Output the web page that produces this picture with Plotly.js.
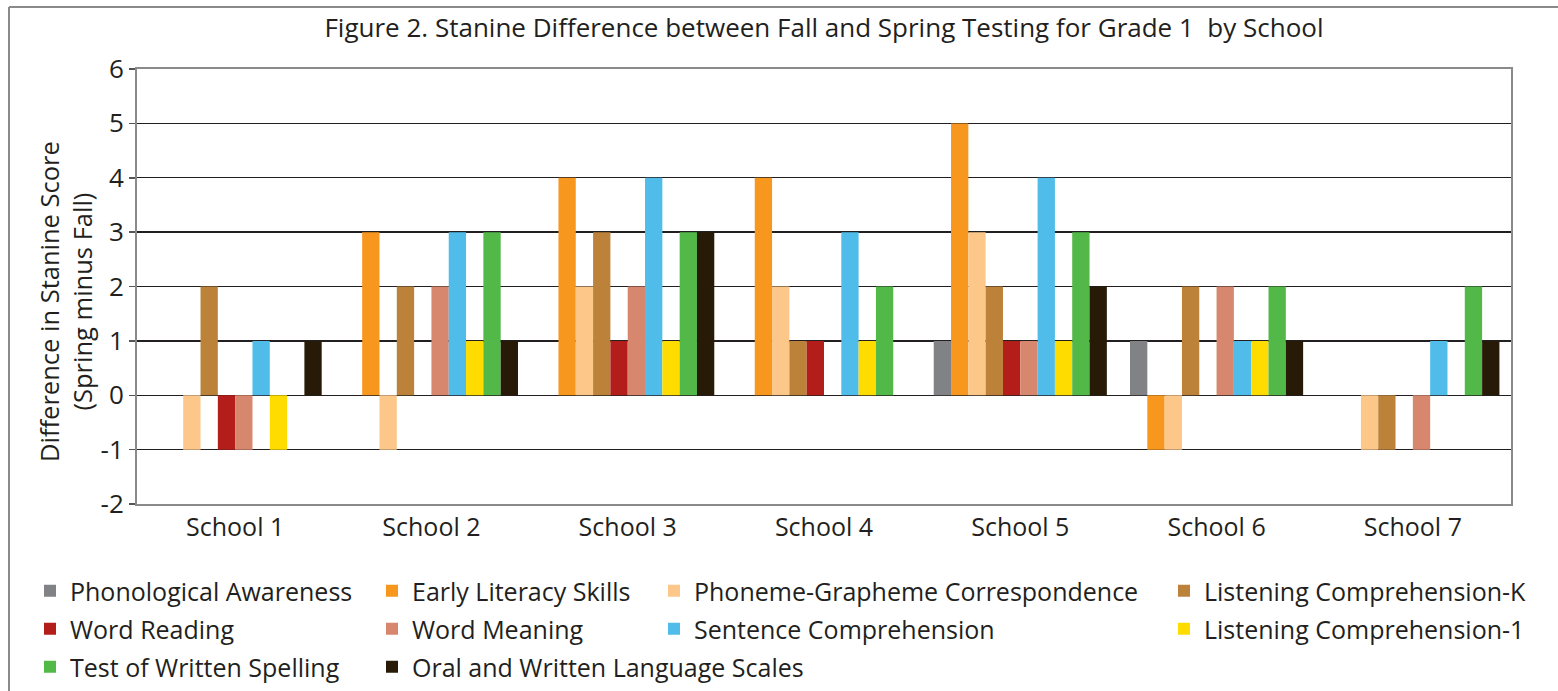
<!DOCTYPE html>
<html>
<head>
<meta charset="utf-8">
<script src="https://cdn.plot.ly/plotly-3.0.1.min.js"></script>
<style>html,body{margin:0;padding:0;background:#fff;}#chart{width:1558px;height:691px;}</style>
</head>
<body>
<div id="chart"></div>
<script>
// ---- data ----
const schools = ["School 1", "School 2", "School 3", "School 4", "School 5", "School 6", "School 7"];
const seriesNames = [
  "Phonological Awareness", "Early Literacy Skills", "Phoneme-Grapheme Correspondence",
  "Listening Comprehension-K", "Word Reading", "Word Meaning", "Sentence Comprehension",
  "Listening Comprehension-1", "Test of Written Spelling", "Oral and Written Language Scales"
];
const phonologicalAwareness   = [0, 0, 0, 0, 1, 1, 0];
const earlyLiteracySkills     = [0, 3, 4, 4, 5, -1, 0];
const phonemeGrapheme         = [-1, -1, 2, 2, 3, -1, -1];
const listeningCompK          = [2, 2, 3, 1, 2, 2, -1];
const wordReading             = [-1, 0, 1, 1, 1, 0, 0];
const wordMeaning             = [-1, 2, 2, 0, 1, 2, -1];
const sentenceComprehension   = [1, 3, 4, 3, 4, 1, 1];
const listeningComp1          = [-1, 1, 1, 1, 1, 1, 0];
const writtenSpelling         = [0, 3, 3, 2, 3, 2, 2];
const oralWrittenLanguage     = [1, 1, 3, 0, 2, 1, 1];
const yTicks = [-2, -1, 0, 1, 2, 3, 4, 5, 6];
const yTickLabels = ["-2", "-1", "0", "1", "2", "3", "4", "5", "6"];
const boundaryTicks = [-0.5, 0.5, 1.5, 2.5, 3.5, 4.5, 5.5, 6.5];

// ---- styling ----
const seriesValues = [phonologicalAwareness, earlyLiteracySkills, phonemeGrapheme, listeningCompK,
  wordReading, wordMeaning, sentenceComprehension, listeningComp1, writtenSpelling, oralWrittenLanguage];
const colors = ["#808285", "#F7971E", "#FDC78A", "#BC823A", "#B31E1A", "#D6876D", "#50BCEA", "#FEDC00", "#52B848", "#271B07"];
// legend column for each series (matches reference layout)
const legendOf = ["legend", "legend2", "legend3", "legend4", "legend", "legend2", "legend3", "legend4", "legend", "legend2"];

const FONT = "Open Sans, sans-serif";
const TXT = "#231f20";

const W = 1558, H = 691;
const M = {l: 137, r: 47, t: 69, b: 187, autoexpand: false};
const pw = W - M.l - M.r, ph = H - M.t - M.b;
const px = v => (v - M.l) / pw;
const py = v => (H - M.b - v) / ph;

const traces = seriesNames.map((name, i) => ({
  type: "bar",
  name: name,
  x: schools,
  y: seriesValues[i],
  marker: {color: colors[i], line: {width: 0}},
  legend: legendOf[i],
  legendgroup: "g" + i,
  hoverinfo: "skip"
}));

const legendBase = (xpx) => ({
  orientation: "v",
  x: px(xpx), xanchor: "left",
  y: py(568), yanchor: "top",
  traceorder: "grouped",
  tracegroupgap: 2.5,
  font: {family: FONT, size: 25, color: TXT},
  bgcolor: "rgba(0,0,0,0)",
  borderwidth: 0,
  itemclick: false
});

const layout = {
  width: W, height: H,
  margin: M,
  paper_bgcolor: "#ffffff",
  plot_bgcolor: "#ffffff",
  font: {family: FONT, color: TXT},
  title: {
    text: "Figure 2. Stanine Difference between Fall and Spring Testing for Grade 1  by School",
    font: {family: FONT, size: 26, color: TXT},
    x: 0.5, xref: "paper", xanchor: "center",
    y: 1 - 28 / H, yref: "container", yanchor: "middle"
  },
  barmode: "group",
  bargap: 0.118,
  bargroupgap: 0,
  xaxis: {
    type: "category",
    categoryarray: schools,
    showgrid: false,
    zeroline: false,
    showline: true, mirror: true, linecolor: "#8a8a8a", linewidth: 2,
    ticks: "",
    tickfont: {family: FONT, size: 25, color: TXT},
    range: [-0.5, 6.5],
    automargin: false,
    fixedrange: true
  },
  xaxis2: {
    type: "linear",
    overlaying: "x",
    anchor: "free",
    position: 0.25,
    side: "bottom",
    range: [-0.5, 6.5],
    tickmode: "array",
    tickvals: boundaryTicks,
    ticks: "outside",
    ticklen: 5,
    tickwidth: 1.5,
    tickcolor: "#231f20",
    showticklabels: false,
    showgrid: false,
    zeroline: false,
    showline: false,
    automargin: false,
    fixedrange: true
  },
  yaxis: {
    range: [-2, 6],
    tickmode: "array",
    tickvals: yTicks,
    ticktext: yTickLabels,
    ticks: "outside",
    ticklen: 6,
    tickwidth: 1.5,
    tickcolor: "#555555",
    tickfont: {family: FONT, size: 26, color: TXT},
    showgrid: true, gridcolor: "#231f20", gridwidth: 1.3,
    zeroline: true, zerolinecolor: "#231f20", zerolinewidth: 1.5,
    showline: true, mirror: true, linecolor: "#8a8a8a", linewidth: 2,
    automargin: false,
    fixedrange: true
  },
  legend: legendBase(30),
  legend2: legendBase(372),
  legend3: legendBase(654),
  legend4: legendBase(1164),
  annotations: [{
    text: "Difference in Stanine Score<br>(Spring minus Fall)",
    textangle: -90,
    xref: "paper", yref: "paper",
    x: px(65), y: py(302),
    xanchor: "center", yanchor: "middle",
    showarrow: false,
    font: {family: FONT, size: 25.5, color: TXT}
  }],
  shapes: [
    {type: "line", xref: "paper", yref: "paper", layer: "below",
     x0: px(9), x1: px(1700), y0: py(7), y1: py(7),
     line: {color: "#8a8a8a", width: 2}},
    {type: "line", xref: "paper", yref: "paper", layer: "below",
     x0: px(9), x1: px(9), y0: py(7), y1: py(800),
     line: {color: "#8a8a8a", width: 2}}
  ]
};

Plotly.newPlot("chart", traces, layout, {displayModeBar: false, staticPlot: true});
</script>
</body>
</html>
